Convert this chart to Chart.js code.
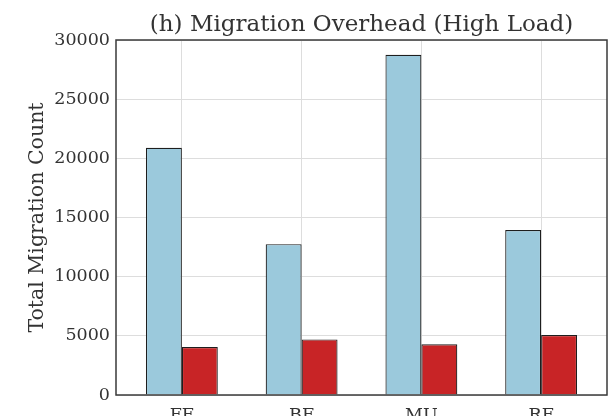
<!DOCTYPE html>
<html>
<head>
<meta charset="utf-8">
<script src="https://cdn.jsdelivr.net/npm/chart.js@4/dist/chart.umd.min.js"></script>
<style>
  html, body { margin: 0; padding: 0; background: #fff; overflow: hidden; }
  #wrap { width: 611px; height: 440px; }
</style>
</head>
<body>
<div id="wrap"><canvas id="graph" width="611" height="440"></canvas></div>
<script>
// values
const categories = ['FF', 'BF', 'MU', 'RF']
const blueValues = [20900, 12750, 28750, 13950]
const redValues = [4050, 4700, 4280, 5070]
const yTicks = [0, 5000, 10000, 15000, 20000, 25000, 30000]

const serif = "'DejaVu Serif', serif"
const textColor = '#333333'

// box around the plot like matplotlib spines
const frame = {
  id: 'frame',
  afterDraw(chart) {
    const a = chart.chartArea
    const c = chart.ctx
    c.save()
    c.strokeStyle = '#3a3a3a'
    c.lineWidth = 1.5
    c.strokeRect(a.left, a.top, a.right - a.left, a.bottom - a.top)
    c.restore()
  }
}

const graph = document.getElementById('graph').getContext('2d')
let myChart = new Chart(graph, {
  type: 'bar',
  data: {
    datasets: [
      {
        label: 'blue',
        data: blueValues.map((v, i) => ({ x: i, y: v })),
        backgroundColor: '#9bc9dc',
        borderColor: '#1e1e1e',
        borderWidth: 1.2,
        categoryPercentage: 0.6,
        barPercentage: 1
      },
      {
        label: 'red',
        data: redValues.map((v, i) => ({ x: i, y: v })),
        backgroundColor: '#c82426',
        borderColor: '#1e1e1e',
        borderWidth: 1.2,
        categoryPercentage: 0.6,
        barPercentage: 1
      }
    ]
  },
  options: {
    responsive: false,
    animation: false,
    layout: { padding: { left: 0, right: 4, top: 0, bottom: 0 } },
    plugins: {
      legend: { display: false },
      tooltip: { enabled: false },
      title: {
        display: true,
        fullSize: false,
        text: '(h) Migration Overhead (High Load)',
        color: textColor,
        font: { family: serif, size: 23, weight: 'normal' },
        padding: { top: 11, bottom: 1.4 }
      }
    },
    scales: {
      x: {
        type: 'linear',
        offset: false,
        min: -0.55,
        max: 3.55,
        afterBuildTicks(scale) {
          scale.ticks = categories.map((c, i) => ({ value: i }))
        },
        afterFit(scale) { scale.height = 45 },
        ticks: {
          callback: (v) => categories[v],
          color: textColor,
          padding: 10,
          font: { family: serif, size: 17.5 }
        },
        grid: { color: '#dddddd', lineWidth: 1, offset: false, drawTicks: false },
        border: { display: false }
      },
      y: {
        min: 0,
        max: 30000,
        afterBuildTicks(scale) {
          scale.ticks = yTicks.map(v => ({ value: v }))
        },
        afterFit(scale) { scale.width = 116 },
        ticks: {
          color: textColor,
          padding: 6,
          font: { family: serif, size: 17.5 },
          callback: (v) => String(v)
        },
        grid: { color: '#dddddd', lineWidth: 1, drawTicks: false },
        border: { display: false },
        title: {
          display: true,
          text: 'Total Migration Count',
          color: textColor,
          font: { family: serif, size: 20.5 },
          padding: { top: 25, bottom: 0 }
        }
      }
    }
  },
  plugins: [frame]
})
</script>
</body>
</html>
